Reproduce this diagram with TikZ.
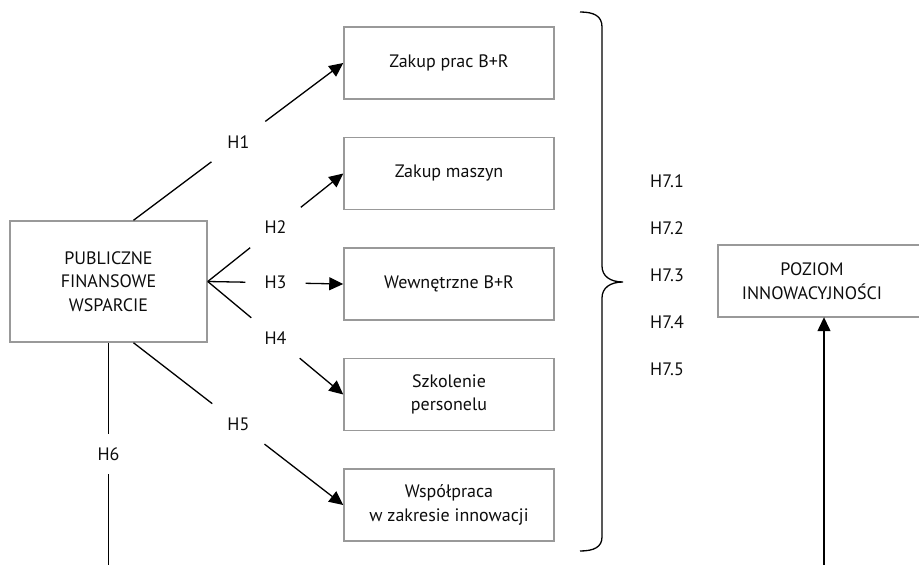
\documentclass[tikz,border=0pt]{standalone}
\usepackage{fontspec}
\setmainfont{PT Sans}
\usetikzlibrary{arrows.meta,positioning,calc}

\begin{document}
\begin{tikzpicture}[
    x=1pt, y=-1pt,
    node distance=37pt,
    font=\fontsize{18}{23.5}\selectfont,
    varbox/.style={rectangle, draw=black!40, line width=1.5pt, text=black!95,
                   minimum width=210pt, minimum height=72pt, align=center, inner sep=0pt},
    outbox/.style={rectangle, text=black!95, minimum width=184pt,
                   minimum height=72pt, align=center, inner sep=0pt},
    hyp/.style={minimum width=60pt, minimum height=40pt, inner sep=0pt, text=black!95},
    hyplbl/.style={anchor=west, inner sep=0pt, text=black!95},
    link/.style={line width=1.3pt},
    arrow/.style={-{Triangle[length=14pt,width=13pt]}, line width=1.3pt}
]
\useasboundingbox (0,0) rectangle (919,565);

%% ── Source: public support ───────────────────────────────────────
\node[varbox, minimum width=197pt, minimum height=121pt] (pub) at (108.5,281.5)
    {PUBLICZNE\\FINANSOWE\\WSPARCIE};

%% ── Middle column: innovation activities ─────────────────────────
\node[varbox] (zakbr) at (449,63)    {Zakup prac B+R};
\node[varbox, below=of zakbr]   (zakmasz) {Zakup maszyn};
\node[varbox, below=of zakmasz] (wewbr)   {Wewnętrzne B+R};
\node[varbox, below=of wewbr]   (szkol)   {Szkolenie\\personelu};
\node[varbox, below=of szkol]   (wspol)   {Współpraca\\w zakresie innowacji};

%% ── Outcome ──────────────────────────────────────────────────────
\node[outbox] (poz) at (812,281) {POZIOM\\INNOWACYJNOŚCI};
\draw[draw=black!40, line width=1.5pt] ([xshift=-2pt]poz.north west) rectangle ([xshift=20pt]poz.south east);

%% ── Hypothesis labels ────────────────────────────────────────────
\coordinate (h6end) at (108.5,565);
\node[hyp] (h1) at ($([xshift=25pt]pub.north)!0.5!(zakbr.west)$) {H1};
\node[hyp] (h2) at ($(pub.east)!0.5!(zakmasz.west)$)             {H2};
\node[hyp] (h3) at ($(pub.east)!0.5!(wewbr.west)$)               {H3};
\node[hyp] (h4) at ($(pub.east)!0.5!(szkol.west)$)               {H4};
\node[hyp] (h5) at ($([xshift=25pt]pub.south)!0.5!(wspol.west)$) {H5};
\node[hyp] (h6) at ($(pub.south)!0.5!(h6end)$)                   {H6};

\foreach \k [count=\i from 0] in {1,...,5}
    \node[hyplbl] (h7\k) at (650,181+47*\i) {H7.\k};

%% ── Arrows ───────────────────────────────────────────────────────
\draw[link]  ([xshift=25pt]pub.north) -- (h1);
\draw[arrow] (h1) -- (zakbr.west);
\draw[link]  (pub.east) -- (h2);
\draw[arrow] (h2) -- (zakmasz.west);
\draw[link]  (pub.east) -- (h3);
\draw[arrow] (h3) -- (wewbr.west);
\draw[link]  (pub.east) -- (h4);
\draw[arrow] (h4) -- (szkol.west);
\draw[link]  ([xshift=25pt]pub.south) -- (h5);
\draw[arrow] (h5) -- (wspol.west);
\draw[link]  (pub.south) -- (h6);
\draw[link]  (h6) -- (h6end);

\coordinate (pozin) at (824,565);
\draw[arrow] (pozin) -- (pozin |- poz.south);

%% ── Brace over the activities ────────────────────────────────────
\coordinate (brtop) at (580,12);
\coordinate (brtip) at (623,282);
\coordinate (brbot) at (580,551);
\draw[link] (brtop) .. controls (594,12) and (602,16) .. (602,27)
    -- (602,266) .. controls (602,276) and (610,282) .. (brtip)
    .. controls (610,282) and (602,288) .. (602,298)
    -- (602,537) .. controls (602,547) and (594,551) .. (brbot);

\end{tikzpicture}
\end{document}
